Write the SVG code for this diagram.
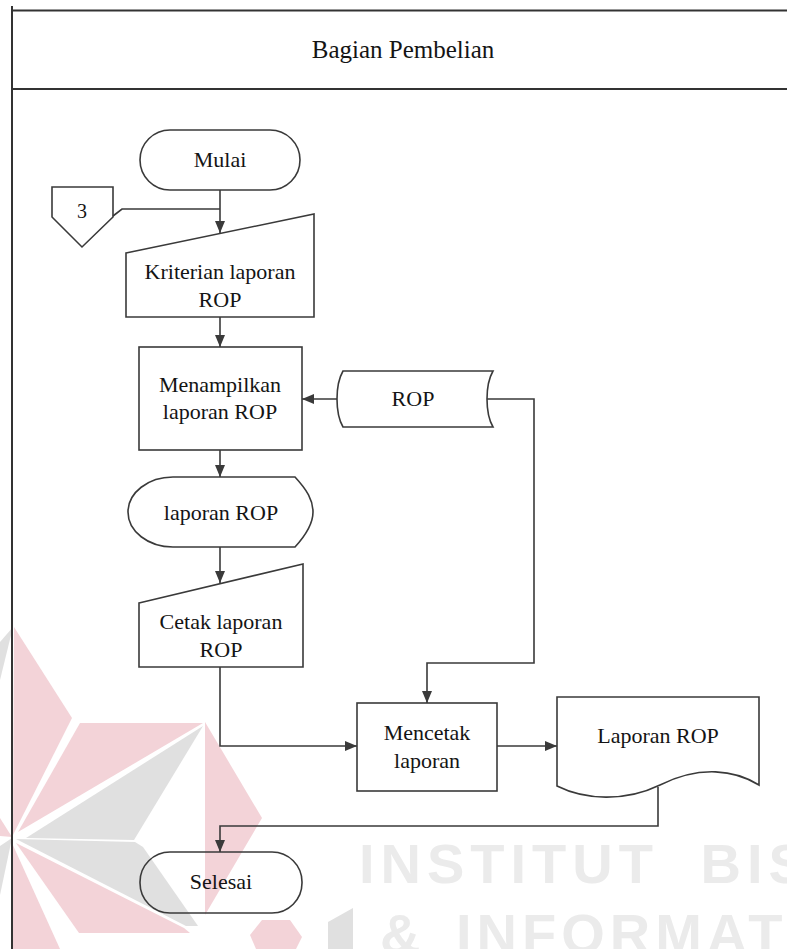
<svg xmlns="http://www.w3.org/2000/svg" width="787" height="949" viewBox="0 0 787 949">
  <style>
    .shape { fill: none; stroke: #3a3a3a; stroke-width: 1.6; }
    .lane { fill: none; stroke: #333333; stroke-width: 2; }
    .wire { fill: none; stroke: #3a3a3a; stroke-width: 1.6; }
    .label { font-family: 'Liberation Serif', Tinos, 'Times New Roman', 'DejaVu Serif', serif; font-size: 22px; fill: #141414; text-anchor: middle; }
    .title { font-family: 'Liberation Serif', Tinos, 'Times New Roman', 'DejaVu Serif', serif; font-size: 25px; fill: #141414; text-anchor: middle; }
    .wm-red { fill: #f3d3d8; }
    .wm-gray { fill: #e0e0e0; }
    .wm-text { font-family: 'Liberation Sans', Arial, sans-serif; font-weight: bold; font-size: 56px; fill: #ebebeb; }
  </style>
  <defs>
    <marker id="arrow" markerUnits="userSpaceOnUse" markerWidth="13" markerHeight="10" refX="12" refY="5" orient="auto">
      <path d="M0,0 L12,5 L0,10 Z" fill="#3a3a3a"/>
    </marker>
  </defs>

  <rect x="0" y="0" width="787" height="949" fill="#ffffff"/>

  <!-- background mark -->
  <g id="watermark">
    <polygon class="wm-red" points="14,627 72,718 13,835"/>
    <polygon class="wm-red" points="80,723 203,723 18,832"/>
    <polygon class="wm-gray" points="203,726 26,838 134,840"/>
    <polygon class="wm-gray" points="16,839 135,842 143,847 198,926 186,926"/>
    <polygon class="wm-red" points="205,722 262,818 205,915"/>
    <polygon class="wm-red" points="16,843 184,928 190,933 79,933"/>
    <polygon class="wm-red" points="12,843 60,949 12,949"/>
    <polygon class="wm-gray" points="0,642 13,627 0,680"/>
    <polygon class="wm-red" points="0,818 12,837 0,836"/>
    <polygon class="wm-gray" points="0,846 12,838 0,895"/>
    <polygon class="wm-red" points="250,935 262,920 290,920 302,937 296,949 256,949"/>
    <polygon class="wm-gray" points="328,922 353,908 353,949 328,949"/>
    <text class="wm-text" x="359" y="883" letter-spacing="6" word-spacing="20">INSTITUT BIS</text>
    <text class="wm-text" x="380" y="953" letter-spacing="5" word-spacing="10">&amp; INFORMAT</text>
  </g>

  <!-- swimlane frame -->
  <g id="lane">
    <line class="lane" x1="12" y1="6" x2="12" y2="949"/>
    <line class="lane" x1="12" y1="10.5" x2="787" y2="10.5"/>
    <line class="lane" x1="12" y1="89" x2="787" y2="89"/>
    <text class="title" x="403" y="58">Bagian Pembelian</text>
  </g>

  <!-- connectors -->
  <g id="connectors">
    <path class="wire" d="M220,190 V233" marker-end="url(#arrow)"/>
    <path class="wire" d="M113,216 L122,209 H220"/>
    <path class="wire" d="M220,317 V347" marker-end="url(#arrow)"/>
    <path class="wire" d="M337,399 H302" marker-end="url(#arrow)"/>
    <path class="wire" d="M220,450 V477" marker-end="url(#arrow)"/>
    <path class="wire" d="M220,547 V583" marker-end="url(#arrow)"/>
    <path class="wire" d="M220,667 V746 H357" marker-end="url(#arrow)"/>
    <path class="wire" d="M487,399 H534 V663 H427 V703" marker-end="url(#arrow)"/>
    <path class="wire" d="M497,746 H557" marker-end="url(#arrow)"/>
    <path class="wire" d="M658,787 V826 H220 V852" marker-end="url(#arrow)"/>
  </g>

  <!-- nodes -->
  <g id="mulai">
    <rect class="shape" x="140" y="130" width="160" height="60" rx="30" ry="30"/>
    <text class="label" x="220" y="167">Mulai</text>
  </g>

  <g id="connector-3">
    <polygon class="shape" points="52,187 113,187 113,217 82,247 52,217"/>
    <text class="label" x="82" y="218" style="font-size:20px">3</text>
  </g>

  <g id="kriterian-laporan">
    <polygon class="shape" points="126,253 314,214 314,317 126,317"/>
    <text class="label" x="220" y="279">Kriterian laporan</text>
    <text class="label" x="220" y="307">ROP</text>
  </g>

  <g id="menampilkan-laporan">
    <rect class="shape" x="139" y="347" width="163" height="103"/>
    <text class="label" x="220" y="392">Menampilkan</text>
    <text class="label" x="220" y="419">laporan ROP</text>
  </g>

  <g id="rop-store">
    <path class="shape" d="M343,371 L493,371 C485,385 485,413 493,427 L343,427 C335,413 335,385 343,371 Z"/>
    <text class="label" x="413" y="406">ROP</text>
  </g>

  <g id="laporan-rop-display">
    <path class="shape" d="M173,477 L295,477 C307,490 313,500 313,512 C313,524 306,535 295,547 L173,547 A45,35 0 0 1 173,477 Z"/>
    <text class="label" x="221" y="520">laporan ROP</text>
  </g>

  <g id="cetak-laporan">
    <polygon class="shape" points="139,603 303,564 303,667 139,667"/>
    <text class="label" x="221" y="629">Cetak laporan</text>
    <text class="label" x="221" y="657">ROP</text>
  </g>

  <g id="mencetak-laporan">
    <rect class="shape" x="357" y="703" width="140" height="88"/>
    <text class="label" x="427" y="740">Mencetak</text>
    <text class="label" x="427" y="768">laporan</text>
  </g>

  <g id="laporan-rop-doc">
    <path class="shape" d="M557,697 L759,697 L759,785 C735,770 700,765 660,785 C625,802 585,800 557,786 Z"/>
    <text class="label" x="658" y="743">Laporan ROP</text>
  </g>

  <g id="selesai">
    <rect class="shape" x="140" y="852" width="162" height="61" rx="30" ry="30"/>
    <text class="label" x="221" y="889">Selesai</text>
  </g>
</svg>
